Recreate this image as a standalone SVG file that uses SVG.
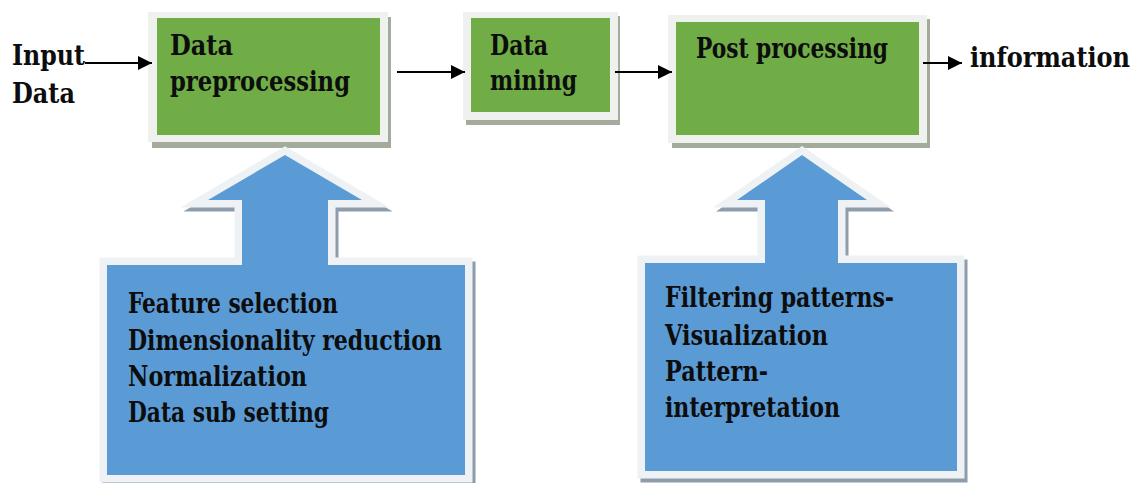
<svg xmlns="http://www.w3.org/2000/svg" width="1143" height="483" viewBox="0 0 1143 483">
  <style>
    text { font-family: 'DejaVu Serif', serif; font-stretch: condensed; font-weight: bold; font-size: 28px; fill: #0d0d0d; }
    .g-shadow { fill: #a2ab9c; }
    .frame { fill: #eff1ef; }
    .green { fill: #70ad47; }
    .c-shadow { fill: #8e9cab; stroke: #8e9cab; stroke-width: 15; stroke-linejoin: miter; }
    .c-frame { fill: #eff2f5; stroke: #eff2f5; stroke-width: 15; stroke-linejoin: miter; }
    .blue { fill: #5b9bd5; }
    .conn { stroke: #000; stroke-width: 2; fill: none; marker-end: url(#arrow); }
  </style>
  <defs>
    <marker id="arrow" viewBox="0 0 14 14" refX="14" refY="7" markerWidth="14" markerHeight="14" markerUnits="userSpaceOnUse" orient="auto">
      <path d="M0,0 L14,7 L0,14 z" fill="#000"/>
    </marker>
    <polygon id="callout-left" points="107,265 242,265 242,200 208,200 285,155 362,200 328,200 328,265 465,265 465,475 107,475"/>
    <polygon id="callout-right" points="645,263 765,263 765,200 737,200 802,155 867,200 838,200 838,263 957,263 957,471 645,471"/>
  </defs>

  <rect width="1143" height="483" fill="#ffffff"/>

  <!-- free labels -->
  <g id="input">
    <text x="12" y="65" textLength="73" lengthAdjust="spacingAndGlyphs">Input</text>
    <text x="12" y="103" textLength="63" lengthAdjust="spacingAndGlyphs">Data</text>
  </g>
  <g id="information">
    <text x="970" y="67" textLength="160" lengthAdjust="spacingAndGlyphs">information</text>
  </g>

  <!-- process boxes -->
  <g id="preprocessing">
    <rect class="g-shadow" x="152" y="17" width="239" height="131"/>
    <rect class="frame" x="148" y="12" width="240" height="130"/>
    <rect class="green" x="157" y="18" width="223" height="117"/>
    <text x="170" y="55" textLength="63" lengthAdjust="spacingAndGlyphs">Data</text>
    <text x="170" y="91" textLength="180" lengthAdjust="spacingAndGlyphs">preprocessing</text>
  </g>
  <g id="mining">
    <rect class="g-shadow" x="466" y="16" width="154" height="109"/>
    <rect class="frame" x="463" y="12" width="155" height="108"/>
    <rect class="green" x="471" y="18" width="139" height="94"/>
    <text x="490" y="55" textLength="58" lengthAdjust="spacingAndGlyphs">Data</text>
    <text x="490" y="90" textLength="87" lengthAdjust="spacingAndGlyphs">mining</text>
  </g>
  <g id="postprocessing">
    <rect class="g-shadow" x="672" y="19" width="258" height="129"/>
    <rect class="frame" x="668" y="15" width="259" height="128"/>
    <rect class="green" x="676" y="22" width="243" height="113"/>
    <text x="696" y="58" textLength="192" lengthAdjust="spacingAndGlyphs">Post processing</text>
  </g>

  <!-- up-arrow callouts -->
  <g id="preprocessing-tasks">
    <use href="#callout-left" class="c-shadow" transform="translate(3,4)"/>
    <use href="#callout-left" class="c-frame"/>
    <use href="#callout-left" class="blue"/>
    <text x="128" y="313" textLength="210" lengthAdjust="spacingAndGlyphs">Feature selection</text>
    <text x="128" y="350" textLength="314" lengthAdjust="spacingAndGlyphs">Dimensionality reduction</text>
    <text x="128" y="386" textLength="179" lengthAdjust="spacingAndGlyphs">Normalization</text>
    <text x="128" y="422" textLength="201" lengthAdjust="spacingAndGlyphs">Data sub setting</text>
  </g>
  <g id="postprocessing-tasks">
    <use href="#callout-right" class="c-shadow" transform="translate(3,4)"/>
    <use href="#callout-right" class="c-frame"/>
    <use href="#callout-right" class="blue"/>
    <text x="665" y="307" textLength="229" lengthAdjust="spacingAndGlyphs">Filtering patterns-</text>
    <text x="665" y="345" textLength="163" lengthAdjust="spacingAndGlyphs">Visualization</text>
    <text x="665" y="381" textLength="103" lengthAdjust="spacingAndGlyphs">Pattern-</text>
    <text x="665" y="417" textLength="175" lengthAdjust="spacingAndGlyphs">interpretation</text>
  </g>

  <!-- connectors -->
  <g id="connectors">
    <line class="conn" x1="85" y1="63" x2="152" y2="63"/>
    <line class="conn" x1="397" y1="72" x2="465" y2="72"/>
    <line class="conn" x1="615" y1="72" x2="672" y2="72"/>
    <line class="conn" x1="923" y1="63" x2="962" y2="63"/>
  </g>
</svg>
